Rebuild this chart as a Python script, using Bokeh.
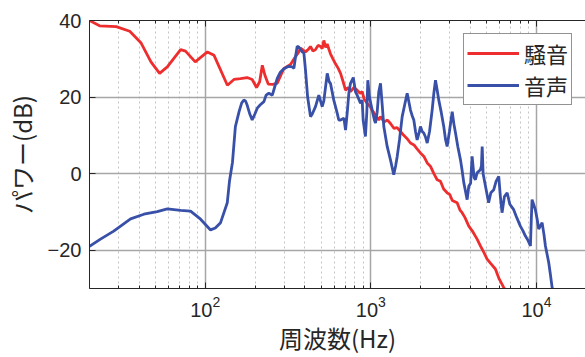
from bokeh.plotting import figure
from bokeh.models import (Range1d, FixedTicker, Legend, LegendItem, CustomJSTickFormatter, LogAxis)
from bokeh.embed import file_html
from bokeh.resources import INLINE

# 騒音 (noise)
noise_f = [20, 23, 29, 35, 41, 47, 53, 59, 71, 76, 87, 103, 113, 136, 149, 163, 179, 192, 204, 213,
           221, 230, 240, 255, 272, 286, 298, 327, 350, 367, 376, 403, 420, 432, 447, 463, 480, 497,
           508, 520, 533, 545, 558, 570, 590, 611, 635, 656, 680, 703, 730, 753, 790, 826, 860, 886,
           910, 948, 990, 1016, 1060, 1116, 1143, 1200, 1260, 1313, 1380, 1440, 1509, 1580, 1650,
           1733, 1820, 1900, 1991, 2090, 2188, 2291, 2400, 2513, 2630, 2750, 2886, 3000, 3100, 3318,
           3450, 3555, 3700, 3901, 4100, 4378, 4600, 4800, 5031, 5300, 5645, 5950, 6337, 6700]
noise_db = [40.0, 38.6, 38.4, 37.2, 34.1, 29.2, 26.2, 27.9, 32.4, 32.0, 29.2, 31.8, 30.9, 23.1, 24.6,
            24.8, 25.1, 24.6, 22.5, 24.0, 28.3, 25.5, 23.4, 23.3, 23.6, 25.7, 27.4, 28.5, 30.5, 31.8,
            32.8, 31.8, 32.5, 33.2, 32.0, 32.4, 33.5, 33.2, 32.6, 34.8, 33.0, 33.9, 32.5, 31.3, 30.0,
            28.7, 27.5, 26.2, 24.0, 21.8, 22.5, 21.4, 22.5, 21.8, 21.0, 21.4, 19.5, 18.4, 17.5, 16.6,
            15.5, 14.0, 14.9, 13.5, 14.0, 13.1, 11.8, 12.0, 11.0, 10.0, 9.2, 8.0, 7.5, 6.5, 5.4, 4.5,
            2.8, 1.9, 0.0, -1.6, -2.0, -4.0, -5.0, -5.5, -7.0, -7.6, -9.5, -10.2, -11.5, -13.7, -15.0,
            -17.1, -19.0, -20.5, -22.3, -23.5, -24.9, -27.5, -29.7, -31.5]

# 音声 (voice)
voice_f = [20, 23.3, 28, 35.4, 42.6, 51.3, 59, 71, 81.5, 93.7, 107.6, 115, 123.7, 135.8, 140, 146,
           152, 160, 166, 171, 175, 179, 186, 192, 199, 206, 215, 226, 233, 242, 254, 262, 272, 284,
           298, 316, 335, 343, 352, 359, 368, 385, 394, 403, 415, 432, 442, 463, 485, 508, 520, 545,
           560, 570, 597, 626, 640, 656, 687, 703, 720, 736, 753, 783, 807, 826, 865, 886, 898, 927,
           945, 958, 980, 1018, 1050, 1066, 1091, 1116, 1143, 1170, 1197, 1254, 1313, 1374, 1410,
           1442, 1490, 1545, 1600, 1656, 1700, 1734, 1780, 1816, 1860, 1902, 1950, 1992, 2040, 2086,
           2140, 2188, 2260, 2344, 2400, 2455, 2510, 2570, 2660, 2754, 2820, 2886, 2980, 3097, 3170,
           3243, 3350, 3475, 3550, 3640, 3812, 3900, 4000, 4085, 4200, 4276, 4378, 4581, 4650, 4699,
           4760, 4920, 5140, 5300, 5520, 5700, 5916, 6050, 6194, 6400, 6650, 6900, 7280, 7600, 7990,
           8300, 8570, 8900, 9190, 9300, 9400, 9600, 9840, 10100, 10310, 10810, 11100, 11320, 11850,
           12100, 12420, 12700]
voice_db = [-19.0, -17.1, -15.0, -11.8, -10.6, -9.9, -9.2, -9.6, -9.8, -11.9, -14.7, -14.2, -12.8,
            -7.6, -2.0, 3.0, 12.3, 16.2, 18.5, 19.2, 19.0, 17.9, 15.5, 14.0, 15.5, 17.1, 18.0, 18.8,
            20.5, 21.0, 20.5, 22.5, 24.9, 26.5, 27.4, 28.0, 27.9, 27.5, 31.0, 33.3, 33.0, 31.8, 31.5,
            27.0, 20.0, 14.9, 15.5, 17.5, 20.5, 17.5, 19.0, 26.2, 24.0, 23.6, 19.2, 15.8, 14.0, 14.0,
            14.5, 11.4, 16.0, 21.0, 23.6, 25.1, 21.4, 20.5, 18.4, 19.2, 14.0, 9.7, 16.0, 24.4, 20.0,
            16.6, 14.0, 13.2, 16.0, 21.4, 23.6, 18.0, 12.3, 7.1, 3.6, -0.3, 2.0, 4.5, 9.0, 14.9, 18.0,
            21.0, 18.5, 16.6, 15.0, 14.0, 11.0, 8.8, 10.5, 12.3, 11.0, 10.6, 9.5, 8.0, 11.0, 16.6,
            21.0, 24.4, 22.0, 19.2, 16.0, 12.3, 9.0, 7.1, 11.0, 16.2, 13.0, 10.6, 7.0, 3.6, 1.0, -2.4,
            -6.8, -3.3, -2.5, 4.5, -1.0, -1.6, 0.2, 1.0, 2.0, 7.1, 0.0, -3.3, -7.6, -5.0, -4.2, -2.0,
            -0.7, -6.0, -10.2, -6.0, -5.0, -8.0, -9.4, -11.5, -13.7, -15.0, -16.3, -17.5, -18.9, -12.0,
            -6.8, -8.0, -9.4, -12.0, -14.5, -12.8, -16.0, -18.9, -23.2, -26.0, -29.7, -32.0]

x_major = [100, 1000, 10000]
x_minor = [20, 30, 40, 50, 60, 70, 80, 90, 200, 300, 400, 500, 600, 700, 800, 900,
           2000, 3000, 4000, 5000, 6000, 7000, 8000, 9000]
y_ticks = [-20, 0, 20, 40]

labels = ["騒音", "音声"]
x_label = "周波数(Hz)"
y_label = "パワー(dB)"

RED = "#EE2E2E"
BLUE = "#3850A8"
DARK = "#262626"

p = figure(width=585, height=357, x_axis_type="log", output_backend="svg", toolbar_location=None,
           x_range=Range1d(20, 19760), y_range=Range1d(-30, 40),
           min_border_left=89, min_border_right=0, min_border_top=20, min_border_bottom=68)
p.outline_line_color = None
p.background_fill_color = "white"
p.border_fill_color = "white"

p.xaxis.ticker = FixedTicker(ticks=x_major, minor_ticks=x_minor)
p.yaxis.ticker = FixedTicker(ticks=y_ticks)
p.yaxis.formatter = CustomJSTickFormatter(code="return tick < 0 ? '\u2212' + Math.abs(tick) : String(tick);")

for ax in (p.xaxis[0], p.yaxis[0]):
    ax.axis_line_color = DARK
    ax.axis_line_width = 1
    ax.major_tick_in = 6
    ax.major_tick_out = 0
    ax.major_tick_line_color = DARK
    ax.minor_tick_in = 3
    ax.minor_tick_out = 0
    ax.minor_tick_line_color = DARK
    ax.major_label_text_font = "Liberation Sans"
    ax.major_label_text_font_size = "20px"
    ax.major_label_text_color = DARK
    ax.axis_label_text_font = "Noto Sans CJK JP"
    ax.axis_label_text_font_size = "24px"
    ax.axis_label_text_font_style = "normal"
    ax.axis_label_text_color = DARK
p.yaxis.minor_tick_line_color = None
p.xaxis.major_label_standoff = 7
p.yaxis.major_label_standoff = 8
p.xaxis.axis_label = x_label
p.yaxis.axis_label = y_label
p.xaxis.axis_label_standoff = 0
p.yaxis.axis_label_standoff = 6

# top box edge with inward ticks (no labels)
top_axis = LogAxis(ticker=FixedTicker(ticks=x_major, minor_ticks=x_minor),
                   formatter=CustomJSTickFormatter(code="return '';"),
                   axis_line_color=DARK, axis_line_width=1,
                   major_tick_in=6, major_tick_out=0, major_tick_line_color=DARK,
                   minor_tick_in=3, minor_tick_out=0, minor_tick_line_color=DARK,
                   major_label_standoff=0, major_label_text_font_size="1px")
p.add_layout(top_axis, "above")

p.xgrid.grid_line_color = "#A6A6A6"
p.xgrid.grid_line_width = 1.5
p.xgrid.minor_grid_line_color = "#C4C4C4"
p.xgrid.minor_grid_line_dash = "2 3"
p.xgrid.minor_grid_line_width = 1
p.ygrid.grid_line_color = "#A6A6A6"
p.ygrid.grid_line_width = 1.5

r1 = p.line(noise_f, noise_db, line_color=RED, line_width=2.8)
r2 = p.line(voice_f, voice_db, line_color=BLUE, line_width=2.8)

legend = Legend(items=[LegendItem(label=labels[0], renderers=[r1]),
                       LegendItem(label=labels[1], renderers=[r2])],
                location="top_right")
legend.margin = 13
legend.padding = 3
legend.spacing = 0
legend.glyph_width = 52
legend.glyph_height = 24
legend.label_height = 24
legend.label_standoff = 5
legend.label_text_font = "Noto Sans CJK JP"
legend.label_text_font_size = "22px"
legend.label_text_color = DARK
legend.border_line_color = DARK
legend.border_line_width = 1
legend.background_fill_alpha = 1
p.add_layout(legend)

open("out.html", "w").write(file_html(p, INLINE))
